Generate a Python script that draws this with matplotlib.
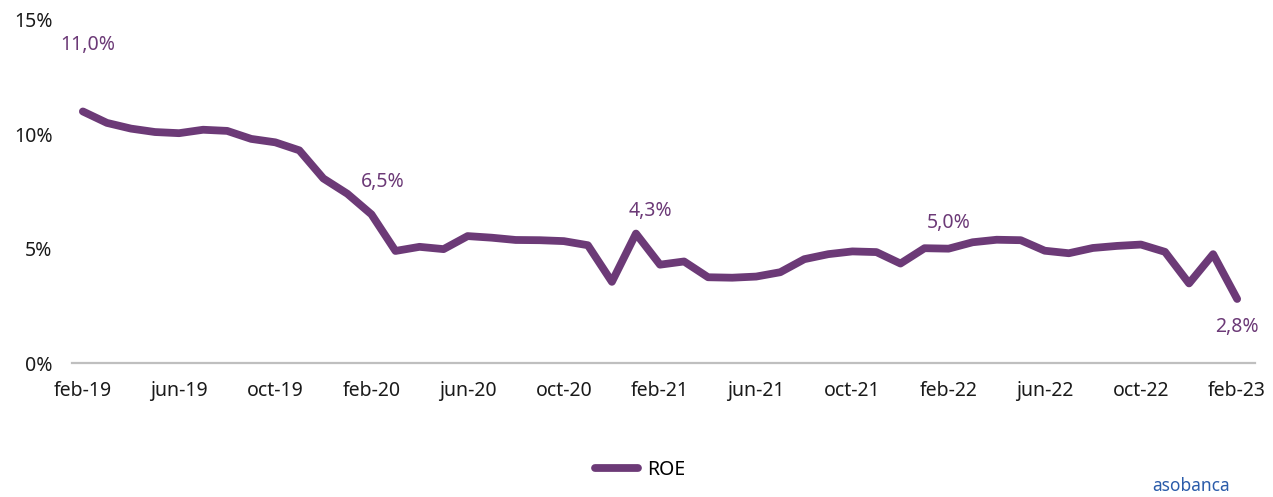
import numpy as np
import matplotlib as mpl
from matplotlib import pyplot as plt

mpl.rcParams['font.family'] = ['Noto Sans', 'DejaVu Sans']

# monthly ROE, feb-19 .. feb-23 (percent)
months = ['feb-19', 'mar-19', 'abr-19', 'may-19', 'jun-19', 'jul-19', 'ago-19', 'sep-19',
          'oct-19', 'nov-19', 'dic-19', 'ene-20', 'feb-20', 'mar-20', 'abr-20', 'may-20',
          'jun-20', 'jul-20', 'ago-20', 'sep-20', 'oct-20', 'nov-20', 'dic-20', 'ene-21',
          'feb-21', 'mar-21', 'abr-21', 'may-21', 'jun-21', 'jul-21', 'ago-21', 'sep-21',
          'oct-21', 'nov-21', 'dic-21', 'ene-22', 'feb-22', 'mar-22', 'abr-22', 'may-22',
          'jun-22', 'jul-22', 'ago-22', 'sep-22', 'oct-22', 'nov-22', 'dic-22', 'ene-23',
          'feb-23']
roe = [11.0, 10.5, 10.25, 10.1, 10.05, 10.2, 10.15, 9.8, 9.65, 9.3, 8.07, 7.4,
       6.5, 4.9, 5.08, 4.98, 5.55, 5.48, 5.38, 5.37, 5.33, 5.15, 3.55, 5.66,
       4.3, 4.44, 3.75, 3.73, 3.78, 3.97, 4.54, 4.76, 4.88, 4.85, 4.35, 5.02,
       5.0, 5.28, 5.39, 5.37, 4.91, 4.8, 5.03, 5.12, 5.18, 4.86, 3.48, 4.76,
       2.8]
labelled = ['feb-19', 'feb-20', 'feb-21', 'feb-22', 'feb-23']
label_offsets = [(5, 66), (11, 32), (-10, 54), (0, 26), (0, -28)]
yticks = [0, 5, 10, 15]

purple = '#6C3A77'

fig = plt.figure(figsize=(12.73, 4.97), dpi=100)
ax = fig.add_axes([0.0566, 0.2696, 0.9294, 0.6902])

x = np.arange(len(months))
ax.plot(x, roe, color=purple, lw=5.6, solid_capstyle='round',
        solid_joinstyle='round', label='ROE')

for m, (dx, dy) in zip(labelled, label_offsets):
    i = months.index(m)
    ax.annotate(f'{roe[i]:.1f}%'.replace('.', ','), xy=(i, roe[i]),
                xytext=(dx, dy), textcoords='offset pixels',
                ha='center', va='center', color=purple, fontsize=14)

ax.set_xlim(-0.45, len(months) - 1 + 0.75)
ax.set_ylim(0, 15)
ax.set_xticks(x[::4])
ax.set_xticklabels(months[::4])
ax.set_yticks(yticks)
ax.set_yticklabels([f'{v}%' for v in yticks])
ax.tick_params(length=0, labelsize=14, colors='#1a1a1a')
ax.tick_params(axis='x', pad=13)
ax.tick_params(axis='y', pad=14)

for side in ['top', 'right', 'left']:
    ax.spines[side].set_visible(False)
ax.spines['bottom'].set_color('#BFBFBF')
ax.spines['bottom'].set_linewidth(1.6)

fig.legend(loc='center', bbox_to_anchor=(0.503, 0.055), frameon=False,
           fontsize=14, handlelength=2.2, handletextpad=0.5)

fig.text(0.936, 0.022, 'asobanca', color='#2B5CAA', fontsize=12.5,
         ha='center', va='center', fontweight='bold')

fig.savefig('out.png', dpi=100)
